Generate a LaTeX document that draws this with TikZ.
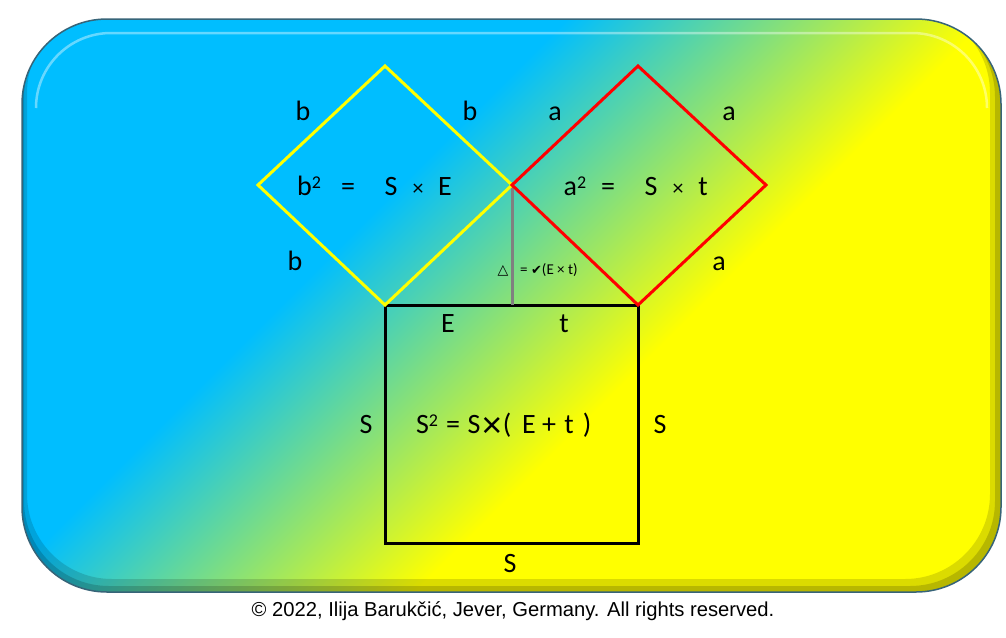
\documentclass[tikz,border=0pt]{standalone}
\usepackage{fontspec}
\setmainfont{Carlito}
\newfontfamily\arialfont{Liberation Sans}
\newfontfamily\symfont{DejaVu Sans}
\definecolor{skyb}{RGB}{0,190,255}
\definecolor{yel}{RGB}{255,255,0}
\definecolor{edge}{RGB}{55,100,120}
\definecolor{redl}{RGB}{255,0,0}
\definecolor{grayl}{RGB}{128,128,128}
\newcommand{\sqr}{\raisebox{6.5pt}{\fontsize{18}{20}\selectfont 2}}
\tikzset{
  lbl/.style={font=\fontsize{28}{32}\selectfont, anchor=base, inner sep=0pt},
  smallx/.style={font=\fontsize{22}{26}\selectfont, anchor=base, inner sep=0pt},
  tiny/.style={font=\fontsize{15}{17}\selectfont, anchor=base west, inner sep=0pt},
  ylw/.style={draw=yel, line width=3pt, line join=miter},
  rdl/.style={draw=redl, line width=3pt, line join=miter},
  blk/.style={draw=black, line width=3pt},
  gry/.style={draw=grayl, line width=3pt},
}
\begin{document}
\begin{tikzpicture}[x=1pt,y=-1pt]
\useasboundingbox (0,0) rectangle (1006,637);
\fill[white] (0,0) rectangle (1006,637);
% background panel
\begin{scope}
  \clip[rounded corners=85] (22,19) rectangle (1001,592);
  \begin{scope}[transform canvas={rotate=-45}]
    \fill[skyb] (-200,-1200) rectangle (415,1200);
    \shade[left color=skyb,right color=yel] (414,-1200) rectangle (712,1200);
    \fill[yel] (711,-1200) rectangle (1700,1200);
  \end{scope}
  \fill[black,opacity=0.14,even odd rule,rounded corners=85]
     (22,19) rectangle (1001,592) (27,8) rectangle (990,579);
  \fill[black,opacity=0.16,even odd rule,rounded corners=85]
     (22,19) rectangle (1001,592) (24,12) rectangle (995,586);
  \draw[white,opacity=0.4,line width=2.5pt,rounded corners=75]
     (36,108) -- (36,33) -- (987,33) -- (987,108);
\end{scope}
\draw[edge,line width=1.5pt,rounded corners=85] (22,19) rectangle (1001,592);

% geometry
\coordinate (yl) at (258,185);
\coordinate (yt) at (385,66);
\coordinate (mid) at (512,185);
\coordinate (yb) at (385,305);
\coordinate (rt) at (638,66);
\coordinate (rr) at (766,185);
\coordinate (rb) at (638,305);
\coordinate (gb) at (512,305);
\coordinate (sqbr) at (638,543);

\draw[blk] (yb) rectangle (sqbr);
\draw[gry] (mid) -- (gb);
\draw[ylw] (yl) -- (yt) -- (mid) -- (yb) -- cycle;
\draw[rdl] (mid) -- (rt) -- (rr) -- (rb) -- cycle;

% side labels
\node[lbl] (b1) at (303,120) {b};
\node[lbl] (b2) at (470,120) {b};
\node[lbl] (b3) at (295,270) {b};
\node[lbl] (a1) at (555,120) {a};
\node[lbl] (a2) at (729,120) {a};
\node[lbl] (a3) at (719,270) {a};
\node[lbl] (lE) at (448,332) {E};
\node[lbl] (lt) at (564,332) {t};
\node[lbl] (sL) at (366,433) {S};
\node[lbl] (sR) at (660,433) {S};
\node[lbl] (sB) at (510,572) {S};

% b equation
\node[lbl] (be1) at (309,195) {b\sqr};
\node[lbl] (be2) at (348,195) {=};
\node[lbl] (be3) at (391,195) {S};
\node[smallx] (be4) at (418,195) {×};
\node[lbl] (be5) at (445,195) {E};
% a equation
\node[lbl] (ae1) at (575,195) {a\sqr};
\node[lbl] (ae2) at (608,195) {=};
\node[lbl] (ae3) at (651,195) {S};
\node[smallx] (ae4) at (678,195) {×};
\node[lbl] (ae5) at (703,195) {t};
% S equation
\node[lbl] (se1) at (427,433) {S\sqr};
\node[lbl] (se2) at (453,433) {=};
\node[lbl] (se3) at (474,433) {S};
\node[lbl,font=\arialfont\fontsize{36}{38}\selectfont] (se4) at (492,437) {×};
\node[lbl] (se5) at (507,433) {(};
\node[lbl] (se6) at (529,433) {E};
\node[lbl] (se7) at (549,433) {+};
\node[lbl] (se8) at (569,433) {t};
\node[lbl] (se9) at (587,433) {)};

% small label
\node[anchor=base,inner sep=0pt,font=\symfont\fontsize{14}{16}\selectfont] (tri) at (503,274) {△};
\node[tiny] (root) at (520,274) {= {\symfont\fontsize{13}{15}\selectfont ✔}(E × t)};

% copyright
\node[anchor=base,inner sep=0pt,font=\arialfont\fontsize{20.2}{22}\selectfont] (copy) at (513,616) {© 2022, Ilija Barukčić, Jever, Germany. All rights reserved.};
\end{tikzpicture}
\end{document}
